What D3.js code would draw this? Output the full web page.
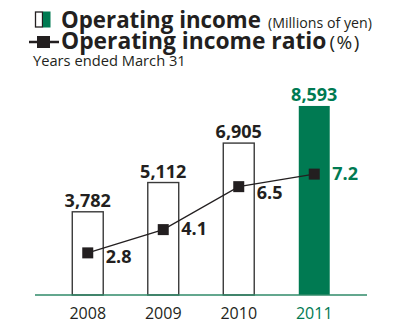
<!DOCTYPE html>
<html>
<head>
<meta charset="utf-8">
<script src="https://cdn.jsdelivr.net/npm/d3@7/dist/d3.min.js"></script>
<style>
  html, body { margin: 0; padding: 0; background: #fff; }
  svg { display: block; font-family: "Open Sans", "Noto Sans", sans-serif; }
</style>
</head>
<body>
<svg id="chart" width="405" height="324"></svg>
<script>
// Fiscal years (ended March 31)
const years = ["2008", "2009", "2010", "2011"];
// Operating income, millions of yen
const income = [3782, 5112, 6905, 8593];
// Operating income ratio, %
const ratio = [2.8, 4.1, 6.5, 7.2];
// Vertical nudge of each ratio label so it clears the line
const ratioLabelDy = [10, 5.5, 12.5, 6];

const INK = "#231f20";
const GREEN = "#007a52";
const AXIS_GREEN = "#2f8a68";

const svg = d3.select("#chart");
const baseY = 295;

const x = d3.scaleBand().domain(years).range([50, 352]).paddingInner(0.59).paddingOuter(0.295);
const yIncome = d3.scaleLinear().domain([0, 9000]).range([baseY, 97]);
const yRatio = d3.scaleLinear().domain([0, 8]).range([303, 159.8]);

const isLatest = (d, i) => i === years.length - 1;
const cx = y => x(y) + x.bandwidth() / 2;

// Bars
svg.append("g").selectAll("rect").data(years).join("rect")
  .attr("x", d => x(d))
  .attr("y", (d, i) => yIncome(income[i]))
  .attr("width", x.bandwidth())
  .attr("height", (d, i) => baseY - yIncome(income[i]))
  .attr("fill", (d, i) => isLatest(d, i) ? GREEN : "#fff")
  .attr("stroke", (d, i) => isLatest(d, i) ? "none" : "#3a3a3a")
  .attr("stroke-width", 1.4);

// Baseline
svg.append("line")
  .attr("x1", 35).attr("x2", 367)
  .attr("y1", baseY).attr("y2", baseY)
  .attr("stroke", AXIS_GREEN).attr("stroke-width", 1.5);

// Year labels
svg.append("g").selectAll("text").data(years).join("text")
  .attr("x", d => cx(d))
  .attr("y", 319)
  .attr("text-anchor", "middle")
  .attr("font-size", 16)
  .attr("fill", (d, i) => isLatest(d, i) ? GREEN : INK)
  .text(d => d);

// Bar value labels
svg.append("g").selectAll("text").data(years).join("text")
  .attr("x", d => cx(d))
  .attr("y", (d, i) => yIncome(income[i]) - 5)
  .attr("text-anchor", "middle")
  .attr("font-size", 18)
  .attr("font-weight", 700)
  .attr("fill", (d, i) => isLatest(d, i) ? GREEN : INK)
  .text((d, i) => d3.format(",")(income[i]));

// Ratio line
const line = d3.line().x(d => cx(d)).y((d, i) => yRatio(ratio[i]));
svg.append("path")
  .datum(years)
  .attr("d", line)
  .attr("fill", "none")
  .attr("stroke", INK)
  .attr("stroke-width", 1.3);

const sq = 11;
svg.append("g").selectAll("rect").data(years).join("rect")
  .attr("x", d => cx(d) - sq / 2)
  .attr("y", (d, i) => yRatio(ratio[i]) - sq / 2)
  .attr("width", sq).attr("height", sq)
  .attr("fill", INK);

// Ratio labels
svg.append("g").selectAll("text").data(years).join("text")
  .attr("x", d => cx(d) + 18)
  .attr("y", (d, i) => yRatio(ratio[i]) + ratioLabelDy[i])
  .attr("font-size", 18)
  .attr("font-weight", 700)
  .attr("fill", (d, i) => isLatest(d, i) ? GREEN : INK)
  .text((d, i) => d3.format(".1f")(ratio[i]));

// Legend
const legend = svg.append("g");
legend.append("rect").attr("x", 35.5).attr("y", 12).attr("width", 7).attr("height", 15)
  .attr("fill", "#fff").attr("stroke", INK).attr("stroke-width", 1.3);
legend.append("rect").attr("x", 43).attr("y", 11.5).attr("width", 7.5).attr("height", 16)
  .attr("fill", GREEN);
legend.append("text").attr("x", 61).attr("y", 28).attr("fill", INK)
  .attr("font-size", 22.3).attr("font-weight", 700).text("Operating income");
legend.append("text").attr("x", 268).attr("y", 28).attr("fill", INK)
  .attr("font-size", 14.2).text("(Millions of yen)");

legend.append("line").attr("x1", 29).attr("x2", 59).attr("y1", 42).attr("y2", 42)
  .attr("stroke", INK).attr("stroke-width", 2.5);
legend.append("rect").attr("x", 37).attr("y", 36).attr("width", 13).attr("height", 12)
  .attr("fill", INK);
const row2 = legend.append("text").attr("x", 61).attr("y", 49).attr("fill", INK);
row2.append("tspan").attr("font-size", 22.8).attr("font-weight", 700).text("Operating income ratio");
row2.append("tspan").attr("dx", 3).attr("font-size", 19).attr("letter-spacing", 1.5).text("(%)");

legend.append("text").attr("x", 33).attr("y", 66).attr("font-size", 14.7).attr("fill", INK)
  .text("Years ended March 31");
</script>
</body>
</html>
